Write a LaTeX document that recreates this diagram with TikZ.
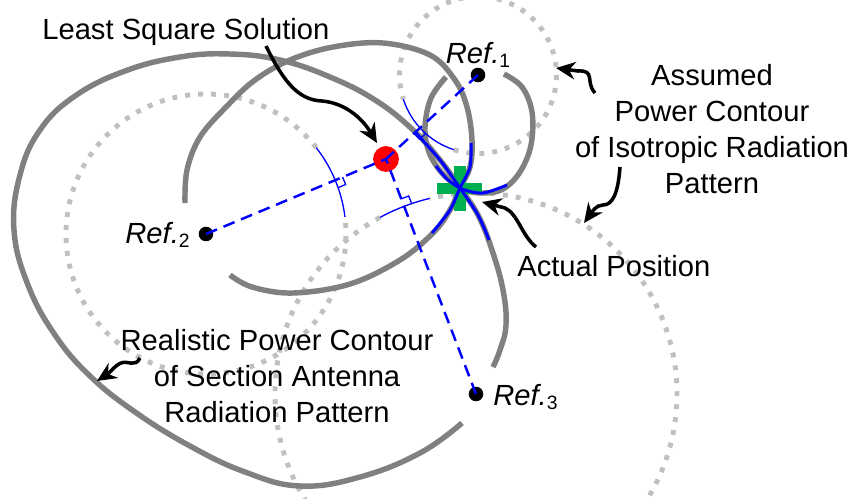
\documentclass[tikz,border=0pt]{standalone}
\usepackage{fontspec}
\setmainfont{Liberation Sans}
\usepackage{tikz}
\usetikzlibrary{
arrows.meta,
positioning,
calc
}
\definecolor{locblue}{RGB}{0,0,255}
\definecolor{locred}{RGB}{255,0,0}
\definecolor{locgreen}{RGB}{0,176,80}
\definecolor{locgray}{RGB}{128,128,128}
\definecolor{loclight}{RGB}{192,192,192}

\newcommand{\refsta}[1]{\textit{Ref.}\raisebox{-2.8pt}{\fontsize{11}{11}\selectfont #1}}

\begin{document}
\begin{tikzpicture}[
  x=0.02cm, y=-0.02cm,
  >={Stealth},
  every node/.style={font=\fontsize{16.6}{20.4}\selectfont, inner sep=0pt},
  realistic/.style={draw=locgray, line width=3.1pt},
  isotropic/.style={draw=loclight, line width=2.8pt,
                    dash pattern=on 2.8pt off 4.6pt},
  fitted/.style={draw=locblue, line width=1.7pt},
  residual/.style={draw=locblue, line width=0.75pt},
  ray/.style={draw=locblue, line width=1.4pt,
              dash pattern=on 6.8pt off 4pt},
  pointer/.style={draw=black, line width=2pt,
                  -{Stealth[length=11pt, width=10pt]}},
  station/.style={circle, fill=black, minimum size=8.3pt},
  caption/.style={align=center, anchor=north}
]
\useasboundingbox (0,0) rectangle (853,498);
\clip (0,0) rectangle (853,498);

%% ── REFERENCE POINTS ────────────────────────────────────────────
\coordinate (r1) at (478,75);
\coordinate (r2) at (206,234);
\coordinate (r3) at (476,394);
\coordinate (actual) at (460,188);

%% ── ISOTROPIC CONTOURS (dotted) ─────────────────────────────────
\draw[isotropic] (r1) ++(-252:78.5) arc[start angle=-252, end angle=-558, radius=78.5];
\draw[isotropic] (r2) ++(-38:140) arc[start angle=-38, end angle=-367, radius=140];
\draw[isotropic] (r3) ++(-118.5:201) arc[start angle=-118.5, end angle=-463.3, radius=201];

%% ── REALISTIC CONTOURS (sector antennas) ────────────────────────
%% Ref.3 lobe
\draw[realistic] plot[smooth, tension=0.7] coordinates {
  (462,423) (420,453) (360,477) (300,486) (245,472) (190,446) (135,412)
  (90,376) (55,335) (28,285) (14,230) (20,175) (40,130) (75,96) (125,71)
  (180,57) (230,54) (280,60) (330,77) (375,100) (412,129) (440,160)
  (460,188) (478,215) (492,250) (503,290) (506,325) (500,350) (493,367)};
%% Ref.2 lobe
\draw[realistic] plot[smooth, tension=0.6] coordinates {
  (185,203) (187,170) (200,137) (227,106) (255,80) (290,60) (333,47)
  (383,43) (430,55) (455,80) (467,107) (472,140) (470,167) (460,188)
  (450,210) (433,233) (400,260) (350,284) (293,293) (252,287) (230,275)};
%% Ref.1 lobe
\draw[realistic] plot[smooth, tension=0.6] coordinates {
  (446,77) (431,98) (425,127) (429,152) (442,173) (462,189) (483,193)
  (503,189) (520,172) (531,145) (532,112) (522,87) (504,74)};

%% ── ACTUAL POSITION ─────────────────────────────────────────────
\fill[locgreen] (437,183) rectangle (482,194);
\fill[locgreen] (454,166) rectangle (466,211);

%% matched parts of the contours
\draw[fitted] plot[smooth] coordinates {(416,133) (440,160) (460,188) (478,215) (489,240)};
\draw[fitted] plot[smooth] coordinates {(471,143) (470,167) (460,188) (450,210) (432,233)};
\draw[fitted] plot[smooth] coordinates {(436,166) (447,179) (462,189) (483,193) (507,185)};

%% ── RESIDUAL ARCS ───────────────────────────────────────────────
\draw[residual] (r1) ++(-198:78.5) arc[start angle=-198, end angle=-252, radius=78.5];
\draw[residual] (r2) ++(-7:140) arc[start angle=-7, end angle=-38, radius=140];
\draw[residual] (r3) ++(-103.3:201) arc[start angle=-103.3, end angle=-118.5, radius=201];

%% ── NODES ───────────────────────────────────────────────────────
\node[station] (ref1) at (r1) {};
\node[station] (ref2) at (r2) {};
\node[station] (ref3) at (r3) {};
\node[circle, fill=locred, minimum size=14.7pt] (ls) at (386,159) {};

\draw[ray] (ref1.center) -- (ls.center);
\draw[ray] (ref2.center) -- (ls.center);
\draw[ray] (ref3.center) -- (ls.center);

%% right-angle marks
\coordinate (c1) at ($(ref1)!1.57cm!(ls)$);
\coordinate (c2) at ($(ref2)!2.8cm!(ls)$);
\coordinate (c3) at ($(ref3)!4.02cm!(ls)$);
\draw[residual] ($(c1)!0.16cm!(ls)$) coordinate (u1)
  -- ($(u1)+($(c1)!0.16cm!90:(ls)$)-(c1)$) -- ($(c1)!0.16cm!90:(ls)$);
\draw[residual] ($(c2)!0.16cm!(ls)$) coordinate (u2)
  -- ($(u2)+($(c2)!0.16cm!-90:(ls)$)-(c2)$) -- ($(c2)!0.16cm!-90:(ls)$);
\draw[residual] ($(c3)!0.16cm!(ls)$) coordinate (u3)
  -- ($(u3)+($(c3)!0.16cm!-90:(ls)$)-(c3)$) -- ($(c3)!0.16cm!-90:(ls)$);

%% ── LABELS ──────────────────────────────────────────────────────
\node[anchor=base] (ref1text) at (478,63) {\refsta{1}};
\node[anchor=base east] (ref2text) at (190,243) {\refsta{2}};
\node[anchor=base west] (ref3text) at (493,405) {\refsta{3}};

\node[anchor=base west] (lstext) at (42,39) {Least Square Solution};
\node[caption] (isotext) at (712,64)
  {Assumed\\Power Contour\\of Isotropic Radiation\\Pattern};
\node[anchor=base west] (actualtext) at (517,276) {Actual Position};
\node[caption] (realtext) at (277,329)
  {Realistic Power Contour\\of Section Antenna\\Radiation Pattern};

%% ── POINTERS ────────────────────────────────────────────────────
\draw[pointer] (266,46) .. controls (285,85) and (300,100) .. (322,101)
  .. controls (345,103) and (362,118) .. (377,143);
\draw[pointer] (595,93) .. controls (585,82) and (596,70) .. (578,71) -- (556,68);
\draw[pointer] (620,167) .. controls (618,195) and (612,205) .. (603,205)
  .. controls (596,205) and (592,212) .. (584,223);
\draw[pointer] (536,247) .. controls (522,236) and (518,214) .. (505,208) -- (482,202);
\draw[pointer] (140,358) .. controls (135,368) and (128,360) .. (121,363)
  .. controls (114,366) and (111,372) .. (97,381);

\end{tikzpicture}
\end{document}
